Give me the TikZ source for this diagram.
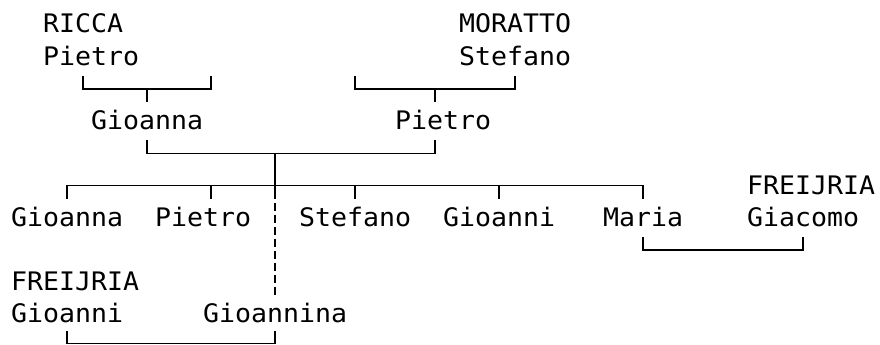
\documentclass[tikz,border=0pt]{standalone}
\usepackage{fontspec}
\newfontfamily\mono[FakeStretch=1.042]{DejaVu Sans Mono}
\begin{document}
\begin{tikzpicture}[x=1pt,y=-1pt,
  person/.style={font=\mono\fontsize{25.5}{25.5}\selectfont, anchor=base west, inner sep=0pt},
  link/.style={line width=1.6pt, line cap=butt, line join=miter},
  dlink/.style={link, dash pattern=on 8pt off 4pt}]
\useasboundingbox (0,0) rectangle (880,345);
% row 0/1
\node[person] (ricca) at (43,33) {RICCA};
\node[person] (pRicca) at (43,65.2) {Pietro};
\node[person] (moratto) at (459,33) {MORATTO};
\node[person] (sMoratto) at (459,65.2) {Stefano};
% row 3
\node[person] (gioannaP) at (91,129.6) {Gioanna};
\node[person] (pietroP) at (395,129.6) {Pietro};
% row 5/6
\node[person] (freijG) at (747,194) {FREIJRIA};
\node[person] (c1) at (11,226.2) {Gioanna};
\node[person] (c2) at (155,226.2) {Pietro};
\node[person] (c3) at (299,226.2) {Stefano};
\node[person] (c4) at (443,226.2) {Gioanni};
\node[person] (c5) at (603,226.2) {Maria};
\node[person] (giacomo) at (747,226.2) {Giacomo};
% row 8/9
\node[person] (freijF) at (11,290.6) {FREIJRIA};
\node[person] (gioanni) at (11,322.8) {Gioanni};
\node[person] (gioannina) at (203,322.8) {Gioannina};
% bracket RICCA Pietro -- Gioanna
\coordinate (b1l) at (83,76);
\coordinate (b1r) at (211,76);
\coordinate (b1m) at (147,89);
\coordinate (b1t) at (147,102);
\draw[link] (b1l) |- (b1m) -| (b1r);
\draw[link] (b1m) -- (b1t);
% bracket MORATTO Stefano -- Pietro
\coordinate (b2l) at (355,76);
\coordinate (b2r) at (515,76);
\coordinate (b2m) at (435,89);
\coordinate (b2t) at (435,102);
\draw[link] (b2l) |- (b2m) -| (b2r);
\draw[link] (b2m) -- (b2t);
% bracket Gioanna -- Pietro
\coordinate (b3l) at (147,140);
\coordinate (b3r) at (435,140);
\coordinate (b3m) at (275,153.4);
\draw[link] (b3l) |- (b3m) -| (b3r);
% children line
\coordinate (k1) at (67,198.5);
\coordinate (k2) at (211,198.5);
\coordinate (k3) at (275,198.5);
\coordinate (k4) at (355,198.5);
\coordinate (k5) at (499,198.5);
\coordinate (k6) at (643,198.5);
\coordinate (hl) at (67,185.5);
\coordinate (hr) at (643,185.5);
\draw[link] (k1) |- (hr) -- (k6);
\draw[link] (k2) -- (k2 |- hl);
\draw[link] (k4) -- (k4 |- hl);
\draw[link] (k5) -- (k5 |- hl);
\draw[link] (b3m) -- (k3);
% dashed descent
\coordinate (d1) at (275,203);
\coordinate (d2) at (275,296);
\draw[dlink] (d1) -- (d2);
% bracket Maria -- Giacomo
\coordinate (b4l) at (643,237);
\coordinate (b4r) at (803,237);
\draw[link] (b4l) |- (803,250) -- (b4r);
% bracket Gioanni -- Gioannina
\coordinate (b5l) at (67,331);
\coordinate (b5r) at (275,331);
\draw[link] (b5l) |- (275,343.5) -- (b5r);
\end{tikzpicture}
\end{document}
